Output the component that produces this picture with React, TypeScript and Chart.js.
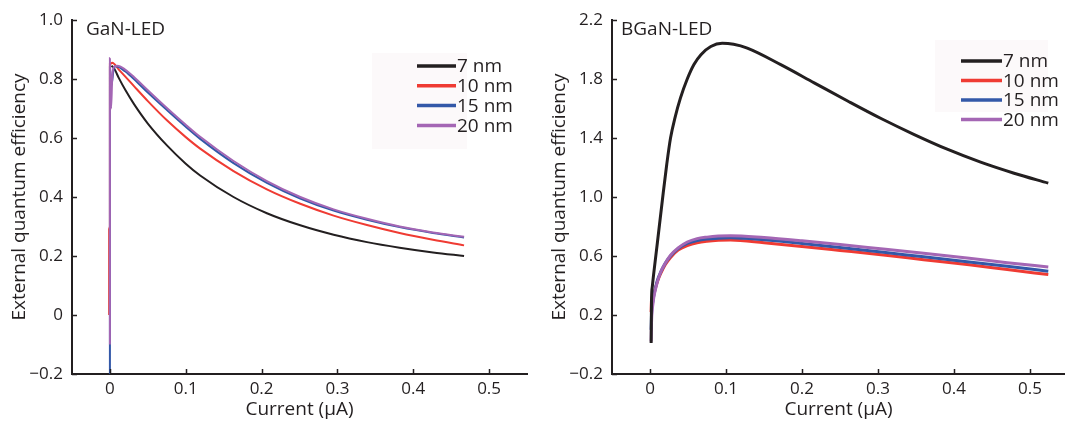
import React, { useEffect, useRef } from 'react';
import { Chart, registerables } from 'chart.js';

Chart.register(...registerables);

// ---------- data ----------
const seriesLabels = ['7 nm', '10 nm', '15 nm', '20 nm'];
const seriesColors = ['#231f20', '#ef3b33', '#3358a8', '#a466b4'];

const xTicks = [0, 0.1, 0.2, 0.3, 0.4, 0.5];
const ganYTicks = [-0.2, 0, 0.2, 0.4, 0.6, 0.8, 1.0];
const bganYTicks = [-0.2, 0.2, 0.6, 1.0, 1.4, 1.8, 2.2];

// GaN-LED
const gan7X = [0.002, 0.005, 0.012, 0.02, 0.032, 0.05, 0.0755, 0.1, 0.119, 0.163, 0.207, 0.251, 0.295, 0.339, 0.382, 0.426, 0.467];
const gan7Y = [0.845, 0.838, 0.802, 0.764, 0.714, 0.649, 0.574, 0.513, 0.473, 0.4, 0.345, 0.304, 0.272, 0.247, 0.228, 0.212, 0.2];

const gan10X = [-0.001, -0.001, 0, 0, 0.003, 0.012, 0.02, 0.032, 0.05, 0.0755, 0.1, 0.119, 0.163, 0.207, 0.251, 0.295, 0.339, 0.382, 0.426, 0.467];
const gan10Y = [0.0, 0.29, 0.3, 0.85, 0.855, 0.831, 0.809, 0.775, 0.725, 0.659, 0.603, 0.564, 0.488, 0.426, 0.377, 0.337, 0.305, 0.278, 0.255, 0.236];

const gan15X = [0, 0, 0.002, 0.005, 0.0075, 0.012, 0.02, 0.032, 0.05, 0.0755, 0.1, 0.119, 0.163, 0.207, 0.251, 0.295, 0.339, 0.382, 0.426, 0.467];
const gan15Y = [-0.3, 0.84, 0.78, 0.835, 0.843, 0.84, 0.826, 0.799, 0.754, 0.694, 0.638, 0.597, 0.515, 0.448, 0.395, 0.354, 0.323, 0.298, 0.278, 0.263];

const gan20X = [0, 0, 0.0015, 0.003, 0.005, 0.01, 0.02, 0.032, 0.05, 0.0755, 0.1, 0.119, 0.163, 0.207, 0.251, 0.295, 0.339, 0.382, 0.426, 0.467];
const gan20Y = [-0.1, 0.87, 0.7, 0.8, 0.84, 0.845, 0.832, 0.806, 0.762, 0.701, 0.645, 0.604, 0.522, 0.454, 0.4, 0.358, 0.326, 0.3, 0.28, 0.265];

// BGaN-LED
const bgan7X = [0.0015, 0.002, 0.003, 0.006, 0.0097, 0.0163, 0.022, 0.027, 0.033, 0.04, 0.049, 0.058, 0.067, 0.08, 0.095, 0.11, 0.128, 0.172, 0.216, 0.26, 0.304, 0.347, 0.391, 0.435, 0.479, 0.524];
const bgan7Y = [0.01, 0.3, 0.39, 0.53, 0.69, 0.98, 1.22, 1.4, 1.54, 1.67, 1.8, 1.9, 1.965, 2.02, 2.042, 2.035, 2.009, 1.897, 1.774, 1.651, 1.532, 1.425, 1.324, 1.236, 1.161, 1.094];

const bganLowX = [0.0015, 0.002, 0.004, 0.007, 0.01, 0.014, 0.02, 0.027, 0.037, 0.049, 0.062, 0.075, 0.09, 0.106, 0.15, 0.2, 0.25, 0.31, 0.36, 0.42, 0.47, 0.524];
const bgan10Y = [0.22, 0.3, 0.33, 0.38, 0.43, 0.48, 0.54, 0.59, 0.64, 0.67, 0.69, 0.7, 0.706, 0.708, 0.69, 0.665, 0.638, 0.605, 0.575, 0.54, 0.508, 0.474];
const bgan15Y = [0.1, 0.2, 0.3, 0.38, 0.44, 0.49, 0.55, 0.6, 0.65, 0.685, 0.705, 0.715, 0.721, 0.724, 0.71, 0.685, 0.658, 0.623, 0.595, 0.56, 0.53, 0.497];
const bgan20Y = [0.02, 0.15, 0.28, 0.37, 0.43, 0.49, 0.55, 0.605, 0.655, 0.695, 0.718, 0.728, 0.735, 0.738, 0.725, 0.703, 0.678, 0.645, 0.618, 0.585, 0.555, 0.525];

// ---------- styling ----------
const FONT = '"Open Sans", "DejaVu Sans", sans-serif';
const INK = '#231f20';
const TICK_SIZE = 17;
const TEXT_SIZE = 19;

const fmtY = (v: number) => (Math.abs(v) < 1e-9 ? '0' : (v < 0 ? '\u2212' : '') + Math.abs(v).toFixed(1));
const fmtX = (v: number) => (Math.abs(v) < 1e-9 ? '0' : v.toFixed(1));

const decorPlugin = {
  id: 'decor',
  afterDraw(chart: any, _args: any, opts: any) {
    const ctx = chart.ctx;
    const area = chart.chartArea;
    const xs = chart.scales.x;
    const ys = chart.scales.y;
    ctx.save();
    // inward tick marks
    ctx.strokeStyle = INK;
    ctx.lineWidth = 1.5;
    ctx.beginPath();
    xs.ticks.forEach((t: any) => {
      const px = Math.round(xs.getPixelForValue(t.value)) + 0.5;
      ctx.moveTo(px, area.bottom);
      ctx.lineTo(px, area.bottom - 5);
    });
    ys.ticks.forEach((t: any) => {
      const py = Math.round(ys.getPixelForValue(t.value)) + 0.5;
      ctx.moveTo(area.left, py);
      ctx.lineTo(area.left + 5, py);
    });
    ctx.stroke();

    // panel label
    ctx.fillStyle = INK;
    ctx.font = `${TEXT_SIZE}px ${FONT}`;
    ctx.textAlign = 'left';
    ctx.textBaseline = 'middle';
    ctx.fillText(opts.panelLabel, opts.labelX, opts.labelY);

    // legend
    const b = opts.legendBox;
    ctx.fillStyle = '#fcf9fa';
    ctx.fillRect(b.x, b.y, b.w, b.h);
    chart.data.datasets.forEach((ds: any, i: number) => {
      const y = opts.legendY0 + i * opts.legendStep;
      ctx.strokeStyle = ds.borderColor;
      ctx.lineWidth = 3.5;
      ctx.beginPath();
      ctx.moveTo(opts.legendX0, y);
      ctx.lineTo(opts.legendX1, y);
      ctx.stroke();
      ctx.fillStyle = INK;
      ctx.font = `${TEXT_SIZE}px ${FONT}`;
      ctx.fillText(ds.label, opts.legendX1 + 1, y + 1);
    });
    ctx.restore();
  },
};

function buildConfig(p: any) {
  const datasets = p.series.map((s: any, i: number) => ({
    label: seriesLabels[i],
    data: s.xs.map((x: number, j: number) => ({ x, y: s.ys[j] })),
    borderColor: seriesColors[i],
    borderWidth: p.lineWidth,
    pointRadius: 0,
    fill: false,
    cubicInterpolationMode: 'monotone',
    order: p.orders[i],
  }));
  return {
    type: 'line',
    data: { datasets },
    options: {
      animation: false,
      responsive: false,
      maintainAspectRatio: false,
      events: [],
      layout: { padding: { left: 0, right: p.padRight, top: 20, bottom: 0 } },
      scales: {
        x: {
          type: 'linear',
          min: p.xMin,
          max: p.xMax,
          afterBuildTicks: (sc: any) => {
            sc.ticks = xTicks.map((v) => ({ value: v }));
          },
          afterFit: (sc: any) => {
            sc.height = 47;
          },
          grid: { display: false, drawTicks: false },
          border: { display: true, color: INK, width: 2 },
          ticks: { padding: 5, color: INK, font: { family: FONT, size: TICK_SIZE }, callback: (v: any) => fmtX(Number(v)) },
          title: {
            display: true,
            text: 'Current (\u03bcA)',
            color: INK,
            font: { family: FONT, size: TEXT_SIZE, lineHeight: 1.2 },
            padding: { top: 0, bottom: 0 },
          },
        },
        y: {
          type: 'linear',
          min: p.yTicks[0],
          max: p.yTicks[p.yTicks.length - 1],
          afterBuildTicks: (sc: any) => {
            sc.ticks = p.yTicks.map((v: number) => ({ value: v }));
          },
          afterFit: (sc: any) => {
            sc.width = 72;
          },
          grid: { display: false, drawTicks: false },
          border: { display: true, color: INK, width: 2 },
          ticks: { padding: 9, color: INK, font: { family: FONT, size: TICK_SIZE }, callback: (v: any) => fmtY(Number(v)) },
          title: {
            display: true,
            text: 'External quantum efficiency',
            color: INK,
            font: { family: FONT, size: TEXT_SIZE, lineHeight: 1.2 },
            padding: { top: 8, bottom: 0 },
          },
        },
      },
      plugins: {
        legend: { display: false },
        tooltip: { enabled: false },
        decor: p.decor,
      },
    },
    plugins: [decorPlugin],
  };
}

const ganPanel = {
  series: [
    { xs: gan7X, ys: gan7Y },
    { xs: gan10X, ys: gan10Y },
    { xs: gan15X, ys: gan15Y },
    { xs: gan20X, ys: gan20Y },
  ],
  orders: [4, 3, 2, 1],
  lineWidth: 2,
  xMin: -0.05,
  xMax: 0.55,
  padRight: 8,
  yTicks: ganYTicks,
  decor: {
    panelLabel: 'GaN-LED',
    labelX: 86,
    labelY: 30,
    legendBox: { x: 372, y: 53, w: 95, h: 96 },
    legendX0: 417,
    legendX1: 456,
    legendY0: 66,
    legendStep: 19.8,
  },
};

const bganPanel = {
  series: [
    { xs: bgan7X, ys: bgan7Y },
    { xs: bganLowX, ys: bgan10Y },
    { xs: bganLowX, ys: bgan15Y },
    { xs: bganLowX, ys: bgan20Y },
  ],
  orders: [0, 3, 2, 1],
  lineWidth: 3,
  xMin: -0.05,
  xMax: 0.546,
  padRight: 0,
  yTicks: bganYTicks,
  decor: {
    panelLabel: 'BGaN-LED',
    labelX: 81,
    labelY: 30,
    legendBox: { x: 395, y: 40, w: 113, h: 72 },
    legendX0: 421,
    legendX1: 462,
    legendY0: 61,
    legendStep: 19.5,
  },
};

function Panel({ panel, left, width }: { panel: any; left: number; width: number }) {
  const ref = useRef<HTMLCanvasElement | null>(null);
  useEffect(() => {
    if (!ref.current) return;
    const chart = new Chart(ref.current, buildConfig(panel) as any);
    return () => chart.destroy();
  }, [panel]);
  return (
    <canvas
      ref={ref}
      width={width}
      height={421}
      style={{ position: 'absolute', left, top: 0, width, height: 421, display: 'block' }}
    />
  );
}

export default function App() {
  return (
    <div style={{ position: 'fixed', left: 0, top: 0, width: 1065, height: 421, background: '#ffffff', overflow: 'hidden' }}>
      <Panel panel={ganPanel} left={0} width={535} />
      <Panel panel={bganPanel} left={540} width={525} />
    </div>
  );
}
